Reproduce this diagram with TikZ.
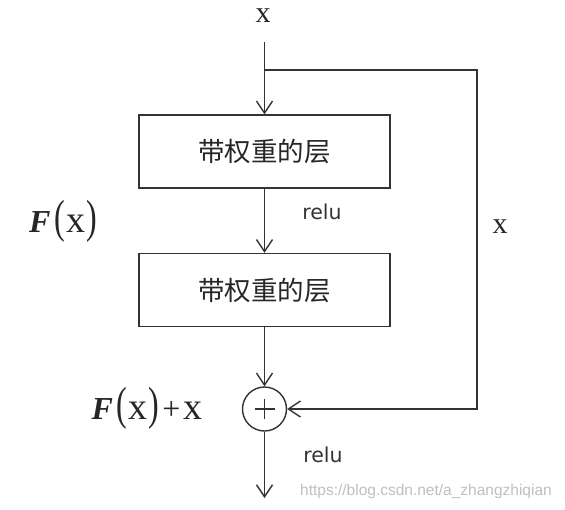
\documentclass[tikz,border=0pt]{standalone}
\usepackage{fontspec}
\usepackage{graphicx}
\usetikzlibrary{arrows.meta}
\newfontfamily\cjkfont{Noto Sans CJK SC}
\newfontfamily\serfont{Liberation Serif}
\newfontfamily\relufont{DejaVu Sans}
\newfontfamily\wmfont{Liberation Sans}
\newcommand{\bigparl}{\scalebox{1}[1.45]{(}}
\newcommand{\bigparr}{\scalebox{1}[1.45]{)}}
\newcommand{\bigx}{{\fontsize{38}{40}\selectfont x}}
\newcommand{\Fx}{{\fontsize{32}{34}\selectfont\textbf{\textit{F}}\kern4pt\bigparl\kern1pt\bigx\kern1pt\bigparr}}
\newcommand{\Fxx}{{\fontsize{32}{34}\selectfont\Fx\kern3pt+\kern3pt\bigx}}
\begin{document}
\begin{tikzpicture}[x=1pt,y=-1pt,
  line/.style={draw=black!80, line width=1.4pt},
  arr/.style={line, -{Straight Barb[length=12pt,width=16pt,line width=1.4pt]}},
  layer/.style={line, rectangle, minimum width=251pt, minimum height=73pt, inner sep=0pt,
     font=\cjkfont\fontsize{26.5}{29}\selectfont, text=black!85},
  var/.style={font=\serfont\fontsize{30}{32}\selectfont, text=black!85, inner sep=0pt},
  act/.style={font=\relufont\fontsize{20.5}{24}\selectfont, text=black!80, inner sep=0pt},
  addop/.style={line, circle, minimum size=44pt, inner sep=0pt}
]
\useasboundingbox (0,0) rectangle (565,509);
\node[var] (xin) at (263,16) {x};
\coordinate (start) at (264.5,42);
\coordinate (branch) at (264.5,70);
\coordinate (corner) at (477,70);
\node[layer] (l1) at (264.5,151.5) {带权重的层};
\node[layer] (l2) at (264.5,290) {带权重的层};
\node[addop] (add) at (264.5,409) {};
\draw[line] ([xshift=-10pt]add.center) -- ([xshift=10pt]add.center)
            ([yshift=-10pt]add.center) -- ([yshift=10pt]add.center);
\coordinate (out) at (264.5,498);

\draw[arr] (start) -- (l1.north);
\draw[arr] (l1.south) -- (l2.north);
\draw[arr] (l2.south) -- (add.north);
\draw[arr] (branch) -- (corner) |- (add.east);
\draw[arr] (add.south) -- (out);

\node[act] (relu1) at (322,212) {relu};
\node[act] (relu2) at (323,455) {relu};
\node[var] (fx) at (63,221) {\Fx};
\node[var] (fxx) at (147,408) {\Fxx};
\node[var] (xskip) at (500,227) {x};
\node[font=\wmfont\fontsize{15.5}{18}\selectfont, text=black!25, inner sep=0pt] (wm) at (426,491) {https://blog.csdn.net/a\_zhangzhiqian};
\end{tikzpicture}
\end{document}
